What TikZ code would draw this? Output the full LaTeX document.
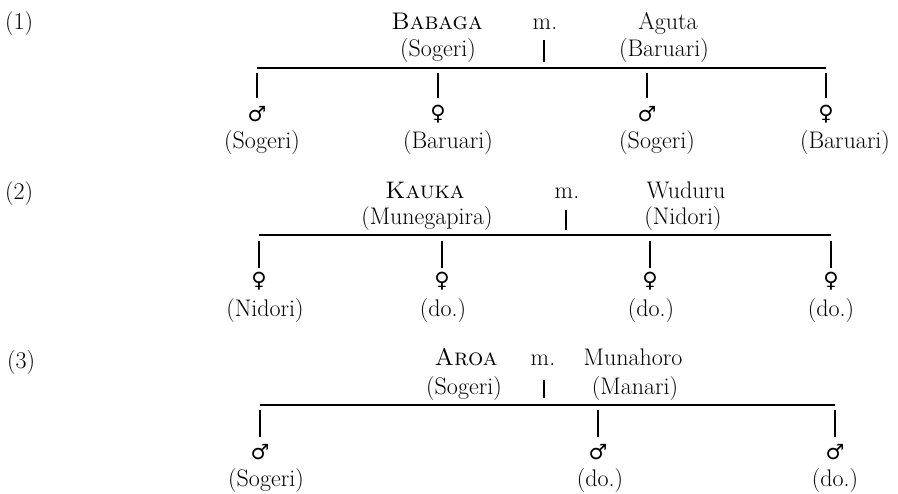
\documentclass[tikz,border=0pt]{standalone}
\usepackage{fontspec}
\newfontfamily\symf{DejaVu Sans}
\begin{document}
\begin{tikzpicture}[x=1pt,y=-1pt,
  txt/.style={inner sep=0pt,anchor=base,font=\fontsize{24}{28}\selectfont},
  sym/.style={inner sep=0pt,anchor=center,font=\fontsize{21}{23}\selectfont\symf},
  ln/.style={line width=1.2pt}]
\useasboundingbox (0,0) rectangle (898,494);
% ---------------- (1) ----------------
\node[txt,anchor=base west] (n1) at (5,30) {(1)};
\node[txt] (babaga) at (437,30) {\textsc{Babaga}};
\node[txt] (babagac) at (438,57) {(Sogeri)};
\node[txt] (m1) at (545,30) {m.};
\node[txt] (aguta) at (668,30) {Aguta};
\node[txt] (agutac) at (664,57) {(Baruari)};
\coordinate (t1a) at (544,40); \coordinate (t1b) at (544,62);
\draw[ln] (t1a) -- (t1b);
\coordinate (h1l) at (257,68); \coordinate (h1r) at (826,68);
\draw[ln] (h1l) -- (h1r);
\foreach \i/\x in {1/257,2/438,3/647,4/826}{
  \coordinate (v1\i a) at (\x,73); \coordinate (v1\i b) at (\x,98);
  \draw[ln] (v1\i a) -- (v1\i b);}
\node[sym] (s11) at (257,114) {♂};
\node[sym] (s12) at (438,114) {♀};
\node[sym] (s13) at (647,114) {♂};
\node[sym] (s14) at (826,114) {♀};
\node[txt] (l11) at (262,149) {(Sogeri)};
\node[txt] (l12) at (448,149) {(Baruari)};
\node[txt] (l13) at (657,149) {(Sogeri)};
\node[txt] (l14) at (845,149) {(Baruari)};
% ---------------- (2) ----------------
\node[txt,anchor=base west] (n2) at (5,200) {(2)};
\node[txt] (kauka) at (425,199) {\textsc{Kauka}};
\node[txt] (kaukac) at (427,225) {(Munegapira)};
\node[txt] (m2) at (567,199) {m.};
\node[txt] (wuduru) at (686,199) {Wuduru};
\node[txt] (wuduruc) at (683,225) {(Nidori)};
\coordinate (t2a) at (566,210); \coordinate (t2b) at (566,230);
\draw[ln] (t2a) -- (t2b);
\coordinate (h2l) at (259,235); \coordinate (h2r) at (831,235);
\draw[ln] (h2l) -- (h2r);
\foreach \i/\x in {1/259,2/442,3/650,4/831}{
  \coordinate (v2\i a) at (\x,241); \coordinate (v2\i b) at (\x,268);
  \draw[ln] (v2\i a) -- (v2\i b);}
\node[sym] (s21) at (259,281) {♀};
\node[sym] (s22) at (442,281) {♀};
\node[sym] (s23) at (650,281) {♀};
\node[sym] (s24) at (831,281) {♀};
\node[txt] (l21) at (265,317) {(Nidori)};
\node[txt] (l22) at (443,317) {(do.)};
\node[txt] (l23) at (651,317) {(do.)};
\node[txt] (l24) at (831,317) {(do.)};
% ---------------- (3) ----------------
\node[txt,anchor=base west] (n3) at (7,369) {(3)};
\node[txt] (aroa) at (466,366) {\textsc{Aroa}};
\node[txt] (aroac) at (464,395) {(Sogeri)};
\node[txt] (m3) at (543,366) {m.};
\node[txt] (munahoro) at (633,366) {Munahoro};
\node[txt] (munahoroc) at (635,395) {(Manari)};
\coordinate (t3a) at (544,380); \coordinate (t3b) at (544,398);
\draw[ln] (t3a) -- (t3b);
\coordinate (h3l) at (260,405); \coordinate (h3r) at (835,405);
\draw[ln] (h3l) -- (h3r);
\foreach \i/\x in {1/260,2/598,3/835}{
  \coordinate (v3\i a) at (\x,410); \coordinate (v3\i b) at (\x,437);
  \draw[ln] (v3\i a) -- (v3\i b);}
\node[sym] (s31) at (260,452) {♂};
\node[sym] (s32) at (598,452) {♂};
\node[sym] (s33) at (835,452) {♂};
\node[txt] (l31) at (266,486) {(Sogeri)};
\node[txt] (l32) at (600,486) {(do.)};
\node[txt] (l33) at (835,486) {(do.)};
\end{tikzpicture}
\end{document}
